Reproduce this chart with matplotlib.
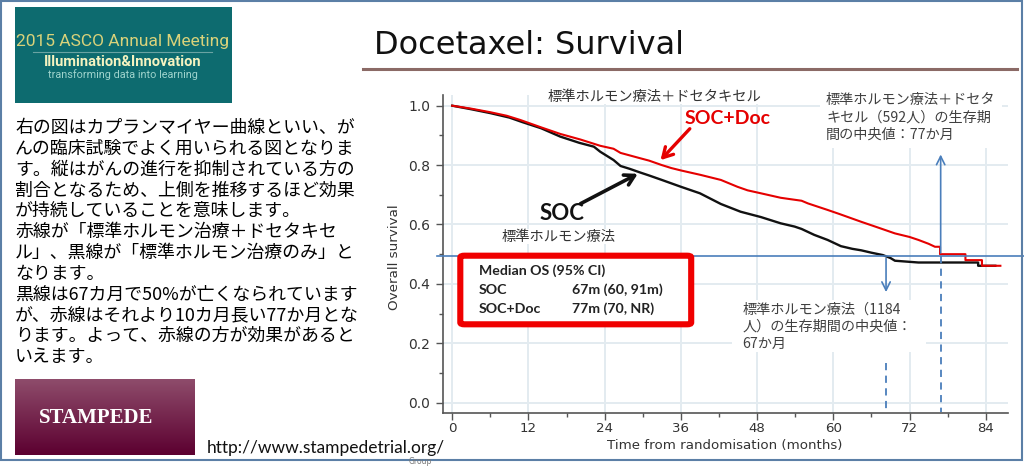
import numpy as np
import matplotlib
matplotlib.use("Agg")
import matplotlib.pyplot as plt
from matplotlib.patches import Rectangle, FancyBboxPatch
from matplotlib.lines import Line2D
import matplotlib.transforms as mtransforms

# ---------------- data ----------------
soc_months = [0, 3, 6, 9, 11, 14, 17, 20, 22.3, 23.3, 25.4, 26.5, 28, 29.6, 31, 33, 36, 39,
              42.3, 45.4, 48.6, 51.7, 53.9, 55, 57, 59.1, 61.2, 63, 64.4, 66, 67.8, 69, 69.7,
              73.4, 82.8, 82.8, 85.5]
soc_surv = [1.0, 0.988, 0.975, 0.96, 0.945, 0.924, 0.896, 0.875, 0.862, 0.845, 0.817, 0.797,
            0.787, 0.775, 0.765, 0.75, 0.727, 0.705, 0.669, 0.643, 0.625, 0.604, 0.593, 0.585,
            0.565, 0.548, 0.527, 0.518, 0.513, 0.505, 0.497, 0.487, 0.478, 0.472, 0.472, 0.461,
            0.461]

doc_months = [0, 3, 6, 8.6, 10.7, 14, 17, 20.2, 23.3, 25.4, 26.5, 29.6, 31, 33, 34.5, 36, 39.1,
              42.3, 44.9, 46.5, 48.6, 51.7, 53, 55, 56, 59.1, 61, 64.4, 67, 69.7, 72, 73.4, 75,
              76, 76.8, 76.8, 80.8, 80.8, 83.4, 83.4, 86.3]
doc_surv = [1.0, 0.99, 0.978, 0.966, 0.952, 0.927, 0.905, 0.886, 0.865, 0.855, 0.841, 0.823,
            0.815, 0.80, 0.79, 0.782, 0.767, 0.75, 0.727, 0.715, 0.705, 0.69, 0.686, 0.68, 0.671,
            0.649, 0.635, 0.609, 0.59, 0.57, 0.558, 0.548, 0.535, 0.525, 0.525, 0.50, 0.50,
            0.48, 0.48, 0.461, 0.461]

median_level = 0.495
soc_median = 68.3
doc_median = 76.9

x_ticks = [0, 12, 24, 36, 48, 60, 72, 84]
y_ticks = [0.0, 0.2, 0.4, 0.6, 0.8, 1.0]
y_ticklabels = ["0.0", "0.2", "0.4", "0.6", "0.8", "1.0"]

title = "Docetaxel: Survival"
x_label = "Time from randomisation (months)"
y_label = "Overall survival"
box_rows = [("Median OS (95% CI)", ""), ("SOC", "67m (60, 91m)"), ("SOC+Doc", "77m (70, NR)")]

left_text = [
    "右の図はカプランマイヤー曲線といい、が",
    "んの臨床試験でよく用いられる図となりま",
    "す。縦はがんの進行を抑制されている方の",
    "割合となるため、上側を推移するほど効果",
    "が持続していることを意味します。",
    "赤線が「標準ホルモン治療＋ドセタキセ",
    "ル」、黒線が「標準ホルモン治療のみ」と",
    "なります。",
    "黒線は67カ月で50%が亡くなられています",
    "が、赤線はそれより10カ月長い77か月とな",
    "ります。よって、赤線の方が効果があると",
    "いえます。",
]
doc_note = ["標準ホルモン療法＋ドセタ", "キセル（592人）の生存期", "間の中央値：77か月"]
soc_note = ["標準ホルモン療法（1184", "人）の生存期間の中央値：", "67か月"]

# ---------------- figure ----------------
W, H = 1024, 470
fig = plt.figure(figsize=(W / 100, H / 100), dpi=100)
fig.patch.set_facecolor("white")

JP = ["Noto Sans CJK JP", "DejaVu Sans"]


def fx(x):
    return x / W


def fy(y):
    return 1 - y / H


def ftext(x, y, s, **kw):
    kw.setdefault("zorder", 10)
    return fig.text(fx(x), fy(y), s, transform=fig.transFigure, **kw)


# outer frame
fig.add_artist(Rectangle((fx(1), fy(460)), fx(1021), (459) / H, transform=fig.transFigure,
                         fill=False, ec="#5b7fa6", lw=1.5, zorder=1))

# ---------------- axes ----------------
ax = fig.add_axes([fx(442.7), fy(412.7), (1008 - 442.7) / W, (412.7 - 95) / H])
ax.set_xlim(-1.5, 87.5)
ax.set_ylim(-0.0337, 1.036)
for s in ["top", "right"]:
    ax.spines[s].set_visible(False)
for s in ["left", "bottom"]:
    ax.spines[s].set_color("#555555")
    ax.spines[s].set_linewidth(1.2)
ax.set_xticks(x_ticks)
ax.set_xticks(np.arange(6, 90, 12), minor=True)
ax.set_yticks(y_ticks)
ax.set_yticklabels(y_ticklabels)
ax.set_yticks(np.arange(0.1, 1.0, 0.2), minor=True)
ax.tick_params(which="major", direction="out", length=5, width=1, color="#555555",
               labelsize=10, labelcolor="#333333", pad=4)
ax.tick_params(axis="x", which="major", labelsize=9.6, pad=2)
ax.tick_params(which="minor", direction="out", length=3, width=1, color="#555555")
ax.grid(True, which="major", color="#e3ebf0", lw=1.4)
ax.set_axisbelow(True)

ax.plot(doc_months, doc_surv, color="#e50000", lw=1.5, zorder=4)
ax.plot(soc_months, soc_surv, color="#111111", lw=1.7, zorder=3)

blue = "#4a7ebb"
btrans = mtransforms.blended_transform_factory(fig.transFigure, ax.transData)
ax.add_line(Line2D([fx(437), 1.0], [median_level, median_level], transform=btrans,
                   color=blue, lw=1.2, clip_on=False, zorder=5))
# dashed drop lines
ax.plot([soc_median, soc_median], [0.134, -0.03], color=blue, lw=1.3, ls=(0, (4, 3)),
        clip_on=False, zorder=5)
ax.plot([doc_median, doc_median], [median_level, -0.03], color=blue, lw=1.3, ls=(0, (4, 3)),
        clip_on=False, zorder=5)
ax.annotate("", xy=(soc_median, 0.363), xytext=(soc_median, median_level),
            arrowprops=dict(arrowstyle="->,head_length=0.6,head_width=0.3", color=blue, lw=1.2),
            zorder=6)
ax.annotate("", xy=(doc_median, 0.845), xytext=(doc_median, median_level),
            arrowprops=dict(arrowstyle="->,head_length=0.6,head_width=0.3", color=blue, lw=1.2),
            zorder=6)

# curve labels with arrows
ax.annotate("", xy=(29.6, 0.775), xytext=(578, H - 205), textcoords="figure pixels",
            arrowprops=dict(arrowstyle="->,head_length=0.7,head_width=0.4", color="#111111",
                            lw=2.6), zorder=7)
ax.annotate("", xy=(32.5, 0.81), xytext=(691.7, H - 126.7), textcoords="figure pixels",
            arrowprops=dict(arrowstyle="->,head_length=0.7,head_width=0.4", color="#e50000",
                            lw=2.4), zorder=7)

ftext(561.7, 213, "SOC", fontsize=16, fontweight="bold", family=["Lato", "DejaVu Sans"],
      color="#111111", ha="center", va="center")
ftext(728, 118, "SOC+Doc", fontsize=14, fontweight="bold", family=["Lato", "DejaVu Sans"],
      color="#e50000", ha="center", va="center")
ftext(548, 96.7, "標準ホルモン療法＋ドセタキセル", fontsize=10.3, family=JP, color="#333333",
      ha="left", va="center", bbox=dict(fc="white", ec="none", pad=0.5))
ftext(501.7, 236.7, "標準ホルモン療法", fontsize=10.3, family=JP, color="#333333",
      ha="left", va="center", bbox=dict(fc="white", ec="none", pad=0.5))

# notes with white background
fig.add_artist(Rectangle((fx(820), fy(148)), 182 / W, 60 / H, transform=fig.transFigure,
                         fc="white", ec="none", zorder=8))
for i, line in enumerate(doc_note):
    ftext(826, 100 + i * 17.2, line, fontsize=10.2, family=JP, color="#404040",
          ha="left", va="center")
fig.add_artist(Rectangle((fx(732), fy(352)), 194 / W, 52 / H, transform=fig.transFigure,
                         fc="white", ec="none", zorder=8))
for i, line in enumerate(soc_note):
    ftext(742.7, 310 + i * 17, line, fontsize=10.2, family=JP, color="#404040",
          ha="left", va="center")

# axis labels
ftext(725, 446, x_label, fontsize=9.6, color="#333333", ha="center", va="center")
ftext(395, 256.7, y_label, fontsize=9.7, color="#333333", ha="center", va="center",
      rotation=90)
ftext(420, 462, "Group", fontsize=5.5, color="#777777", ha="center", va="center")

# red median box
fig.add_artist(FancyBboxPatch((fx(460.3), fy(324.3)), (691.2 - 460.3) / W, (324.3 - 255.7) / H,
                              boxstyle="round,pad=0,rounding_size=0.004",
                              transform=fig.transFigure, fc="white", ec="#f00000", lw=4.4,
                              zorder=9))
row_y = [270.7, 290, 309]
for (lab, val), yy in zip(box_rows, row_y):
    ftext(479, yy, lab, fontsize=10.2, fontweight="bold", family=["Lato", "DejaVu Sans"],
          color="#222222", ha="left", va="center")
    if val:
        ftext(572.3, yy, val, fontsize=10.2, fontweight="bold", family=["Lato", "DejaVu Sans"],
              color="#222222", ha="left", va="center")

# ---------------- title ----------------
ftext(373.6, 53.6, title, fontsize=23, color="#111111", ha="left", va="baseline",
      family=["DejaVu Sans"])
fig.add_artist(Line2D([fx(363), fx(1017)], [fy(68.7), fy(68.7)], transform=fig.transFigure,
                      color="#8b6a66", lw=2.2, zorder=10))

# ---------------- ASCO logo ----------------
fig.add_artist(Rectangle((fx(15), fy(103)), 217 / W, 96 / H, transform=fig.transFigure,
                         fc="#0d6b6f", ec="none", zorder=2))
ftext(123, 41.7, "2015 ASCO Annual Meeting", fontsize=12.5, color="#d9d27a",
      family=["Roboto", "DejaVu Sans"], ha="center", va="center")
fig.add_artist(Line2D([fx(33), fx(211.7)], [fy(51.7), fy(51.7)], transform=fig.transFigure,
                      color="#6aa3a3", lw=0.8, zorder=10))
ftext(123, 62.3, "Illumination&Innovation", fontsize=10.5, color="#f5f3c0", fontweight="bold",
      family=["Roboto", "DejaVu Sans"], ha="center", va="center")
ftext(123, 75, "transforming data into learning", fontsize=7.8, color="#9ed3cc",
      family=["Roboto", "DejaVu Sans"], ha="center", va="center")

# ---------------- left paragraph ----------------
for i, line in enumerate(left_text):
    ftext(15, 128.3 + i * 20.76, line, fontsize=12.9, family=JP, color="#000000",
          ha="left", va="center")

# ---------------- STAMPEDE logo ----------------
lax = fig.add_axes([fx(15), fy(455), 180 / W, 76 / H])
top = np.array([0x8e, 0x4c, 0x6b]) / 255
bot = np.array([0x5c, 0x00, 0x30]) / 255
t = np.linspace(0, 1, 64)[:, None]
grad = (top[None, :] * (1 - t) + bot[None, :] * t)[:, None, :]
lax.imshow(grad, aspect="auto", extent=[0, 1, 0, 1])
lax.set_axis_off()
ftext(96, 418.3, "STAMPEDE", fontsize=15, color="white", fontweight="bold",
      family=["Liberation Serif", "DejaVu Serif"], ha="center", va="center")
ftext(206.7, 448, "http://www.stampedetrial.org/", fontsize=12.5, color="#111111",
      family=["Lato", "DejaVu Sans"], ha="left", va="center")

fig.savefig("out.png", dpi=100, facecolor="white")
